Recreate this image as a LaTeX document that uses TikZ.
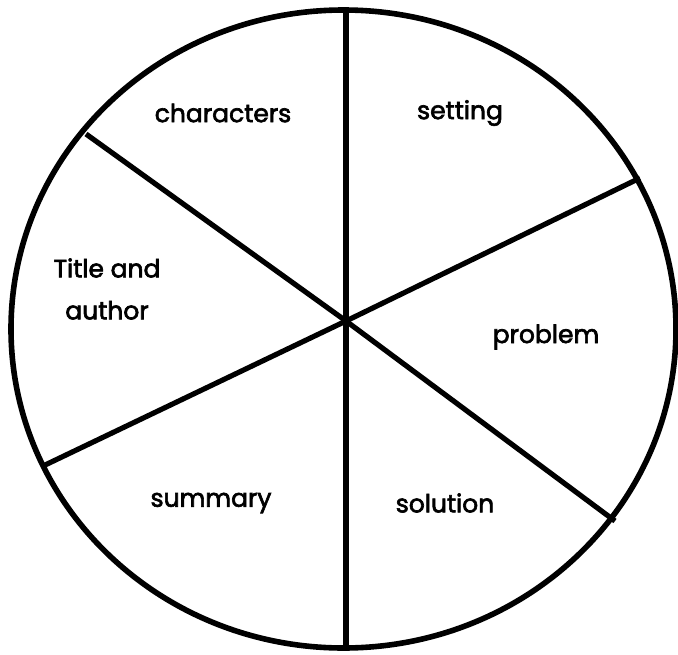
\documentclass[tikz,border=0pt]{standalone}
\usepackage{fontspec}
\setmainfont{Poppins}[FakeBold=2.5]
\begin{document}
\begin{tikzpicture}[x=1pt,y=-1pt,
  rim/.style={line width=5.6pt},
  spoke/.style={line width=5.2pt},
  lbl/.style={font=\fontsize{25}{42}\selectfont, align=center, inner sep=0pt}]
\useasboundingbox (0,0) rectangle (678,654);
\draw[rim] (343.5,329) ellipse [x radius=332.5, y radius=319];
\coordinate (c) at (346,321);
\coordinate (t) at (346,11);
\coordinate (b) at (346,651);
\coordinate (ul) at (86,134);
\coordinate (lr) at (615,521);
\coordinate (ur) at (640,178);
\coordinate (ll) at (43,466);
\draw[spoke] (t) -- (c) -- (b);
\draw[spoke] (ul) -- (c) -- (lr);
\draw[spoke] (ur) -- (c) -- (ll);
\node[lbl] (characters) at (223,113) {characters};
\node[lbl] (setting) at (460,113) {setting};
\node[lbl] (title) at (107,289) {Title and\\author};
\node[lbl] (problem) at (546,337) {problem};
\node[lbl] (summary) at (211,503) {summary};
\node[lbl] (solution) at (445,503) {solution};
\end{tikzpicture}
\end{document}
